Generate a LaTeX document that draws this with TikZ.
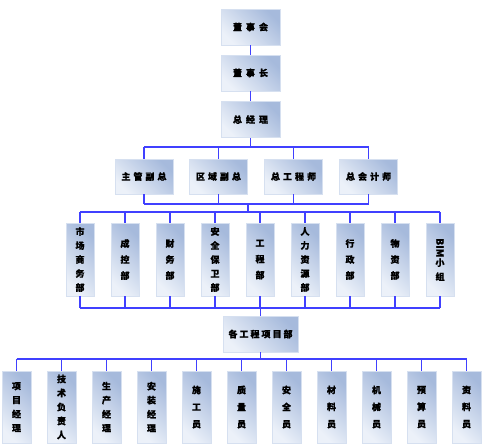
\documentclass[tikz,border=0pt]{standalone}
\usepackage{fontspec}
\newfontfamily\cjk[FakeBold=0.7]{Noto Sans CJK SC}
\definecolor{boxdark}{RGB}{166,186,220}
\definecolor{boxlight}{RGB}{236,241,249}
\definecolor{boxedge}{RGB}{214,224,240}
\definecolor{linkblue}{RGB}{64,64,255}
\tikzset{
  orgbox/.style={draw=boxedge, line width=0.6pt, top color=boxdark, bottom color=boxlight,
    shading angle=-45, font=\cjk\bfseries\fontsize{9}{14}\selectfont, align=center, inner sep=0pt},
  hbox/.style={orgbox, minimum width=59pt, minimum height=36pt},
  vbox/.style={orgbox, minimum width=28pt, minimum height=73pt},
  link/.style={linkblue, line width=1.1pt},
}
\begin{document}
\begin{tikzpicture}[x=1pt,y=-1pt]
  \useasboundingbox (0,0) rectangle (484,447);

  % Top chain
  \node[hbox] (dsh) at (250.5,27) {董\hspace{4pt}事\hspace{4pt}会};
  \node[hbox] (dsz) at (250.5,73) {董\hspace{4pt}事\hspace{4pt}长};
  \node[hbox] (zjl) at (250.5,119.5) {总\hspace{4pt}经\hspace{4pt}理};
  \draw[link] (dsh) -- (dsz);
  \draw[link] (dsz) -- (zjl);

  % Bus levels
  \coordinate (bus1) at (0,147);
  \coordinate (bus2) at (0,204);
  \coordinate (bus3) at (0,212);
  \coordinate (bus4) at (0,308);
  \coordinate (bus5) at (0,359);
  \coordinate (j1) at (248,204);
  \coordinate (j2) at (248,212);

  % Deputies
  \foreach \t/\x [count=\i] in {主\hspace{3pt}管\hspace{3pt}副\hspace{3pt}总/144,
      区\hspace{3pt}域\hspace{3pt}副\hspace{3pt}总/218.5,
      总\hspace{3pt}工\hspace{3pt}程\hspace{3pt}师/293.5,
      总\hspace{3pt}会\hspace{3pt}计\hspace{3pt}师/368.5} {
    \node[hbox, minimum width=58pt, minimum height=35pt] (a\i) at (\x,176.5) {\t};
    \draw[link] (a\i.north) -- (a\i.north |- bus1);
    \draw[link] (a\i.south) -- (a\i.south |- bus2);
  }
  \draw[link] (zjl.south) -- (zjl.south |- bus1);
  \draw[link] (a1.north |- bus1) -- (a4.north |- bus1);
  \draw[link] (a1.south |- bus2) -- (a4.south |- bus2);
  \draw[link] (j1) -- (j2);

  % Departments
  \foreach \t [count=\i] in {{市\\场\\商\\务\\部}, {成\\[2pt]控\\[2pt]部}, {财\\[2pt]务\\[2pt]部},
      {安\\全\\保\\卫\\部}, {工\\[2pt]程\\[2pt]部}, {人\\力\\资\\源\\部}, {行\\[2pt]政\\[2pt]部},
      {物\\[2pt]资\\[2pt]部}, {\rotatebox{-90}{\fontsize{10}{10}\selectfont BIM}\\小\\组}} {
    \node[vbox] (b\i) at (35+45*\i,259.5) {\t};
    \draw[link] (b\i.north) -- (b\i.north |- bus3);
    \draw[link] (b\i.south) -- (b\i.south |- bus4);
  }
  \draw[link] (b1.north |- bus3) -- (b9.north |- bus3);
  \draw[link] (b1.south |- bus4) -- (b9.south |- bus4);

  % Project department
  \node[hbox, minimum width=75pt] (xmb) at (260.5,334) {各\hspace{2pt}工\hspace{2pt}程\hspace{2pt}项\hspace{2pt}目\hspace{2pt}部};
  \draw[link] (xmb.north |- bus4) -- (xmb.north);
  \draw[link] (xmb.south) -- (xmb.south |- bus5);

  % Project staff
  \foreach \t [count=\i] in {{项\\目\\经\\理}, {技\\术\\负\\责\\人}, {生\\产\\经\\理},
      {安\\装\\经\\理}, {施\\[3pt]工\\[3pt]员}, {质\\[3pt]量\\[3pt]员}, {安\\[3pt]全\\[3pt]员},
      {材\\[3pt]料\\[3pt]员}, {机\\[3pt]械\\[3pt]员}, {预\\[3pt]算\\[3pt]员}, {资\\[3pt]料\\[3pt]员}} {
    \node[vbox, minimum width=29pt, minimum height=72pt] (c\i) at (-28.5+45*\i,407) {\t};
    \draw[link] (c\i.north) -- (c\i.north |- bus5);
  }
  \draw[link] (c1.north |- bus5) -- (c11.north |- bus5);
\end{tikzpicture}
\end{document}
